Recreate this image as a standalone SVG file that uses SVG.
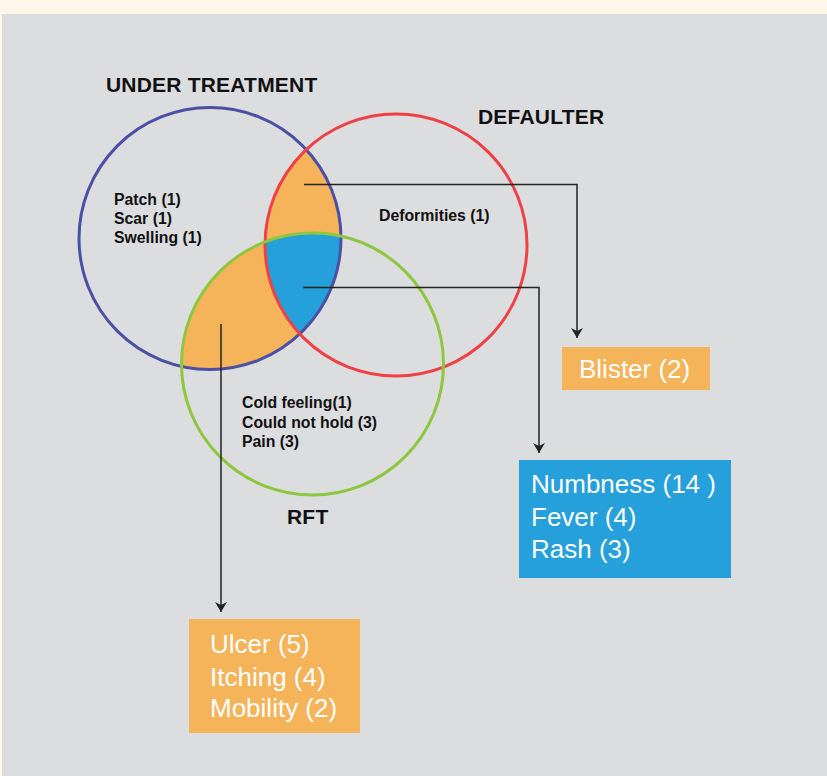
<svg xmlns="http://www.w3.org/2000/svg" width="827" height="776" viewBox="0 0 827 776">
<style>
.lbl{font-family:"Liberation Sans",Arial,sans-serif;font-weight:bold;fill:#111;}
.title{font-size:21px;letter-spacing:0.2px;}
.item{font-size:15.8px;}
.box{font-family:"Liberation Sans",Arial,sans-serif;font-size:26px;fill:#fff;}
.ring{fill:none;stroke-width:3;}
.conn{fill:none;stroke:#222;stroke-width:1.5;}
</style>
<defs>
<clipPath id="cUT"><circle cx="210" cy="238.5" r="131"/></clipPath>
<clipPath id="cDEF"><circle cx="396" cy="245" r="131"/></clipPath>
<clipPath id="cRFT"><circle cx="312.5" cy="364" r="131"/></clipPath>
<marker id="arr" markerUnits="userSpaceOnUse" markerWidth="14" markerHeight="14" viewBox="-11 -7 12 14" refX="0" refY="0" orient="auto">
<path d="M-10,-6 L0,0 L-10,6 L-7,0 z" fill="#222"/>
</marker>
</defs>
<rect x="0" y="0" width="827" height="776" fill="#fff7ea"/>
<rect x="2" y="14" width="825" height="762" fill="#dcdddf"/>

<g id="fills">
<g clip-path="url(#cUT)">
<circle cx="396" cy="245" r="131" fill="#f5b459"/>
<circle cx="312.5" cy="364" r="131" fill="#f5b459"/>
<g clip-path="url(#cDEF)"><circle cx="312.5" cy="364" r="131" fill="#25a0da"/></g>
</g>
</g>

<g id="under-treatment">
<circle class="ring" cx="210" cy="238.5" r="131" stroke="#4b50a5"/>
<text class="lbl title" x="106" y="92">UNDER TREATMENT</text>
<text class="lbl item" x="114" y="205">Patch (1)</text>
<text class="lbl item" x="114" y="224">Scar (1)</text>
<text class="lbl item" x="114" y="243">Swelling (1)</text>
</g>
<g id="defaulter">
<circle class="ring" cx="396" cy="245" r="131" stroke="#ef4046"/>
<text class="lbl title" x="478" y="124">DEFAULTER</text>
<text class="lbl item" x="379" y="221">Deformities (1)</text>
</g>
<g id="rft">
<circle class="ring" cx="312.5" cy="364" r="131" stroke="#8dc63f"/>
<text class="lbl title" x="287" y="524">RFT</text>
<text class="lbl item" x="242" y="408">Cold feeling(1)</text>
<text class="lbl item" x="242" y="428">Could not hold (3)</text>
<text class="lbl item" x="242" y="447">Pain (3)</text>
</g>

<g id="connectors">
<path class="conn" d="M304,184.5 H577 V338" marker-end="url(#arr)"/>
<path class="conn" d="M303,287.5 H539 V453" marker-end="url(#arr)"/>
<path class="conn" d="M221,324 V612" marker-end="url(#arr)"/>
</g>

<g id="blister">
<rect x="562" y="347" width="148" height="43" fill="#f5b459"/>
<text class="box" x="579" y="378">Blister (2)</text>
</g>
<g id="numbness">
<rect x="519" y="460" width="212" height="118" fill="#25a0da"/>
<text class="box" x="531" y="493">Numbness (14 )</text>
<text class="box" x="531" y="526">Fever (4)</text>
<text class="box" x="531" y="558">Rash (3)</text>
</g>
<g id="ulcer">
<rect x="189" y="619" width="171" height="114" fill="#f5b459"/>
<text class="box" x="210" y="653">Ulcer (5)</text>
<text class="box" x="210" y="686">Itching (4)</text>
<text class="box" x="210" y="717">Mobility (2)</text>
</g>
</svg>
